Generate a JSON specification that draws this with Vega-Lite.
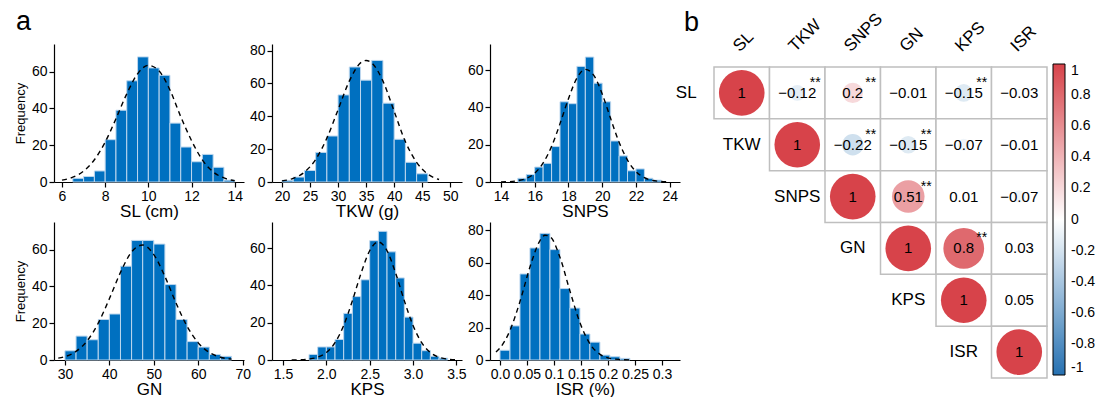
{
  "$schema": "https://vega.github.io/schema/vega-lite/v6.json",
  "padding": {"left": 14, "top": 8, "right": 0, "bottom": 0},
  "background": "white",
  "config": {
    "view": {"stroke": null},
    "font": "Liberation Sans",
    "axis": {"grid": false, "domainColor": "#000", "domainWidth": 1.2, "tickColor": "#000", "tickWidth": 1.2, "tickSize": 5, "labelColor": "#000", "labelFont": "Liberation Sans", "labelFontSize": 14, "titleFont": "Liberation Sans", "titleFontSize": 17, "titleFontWeight": "normal", "titleColor": "#000", "labelOverlap": false, "labelFlush": false, "labelPadding": 2},
    "axisX": {"titlePadding": 0},
    "axisY": {"titleFontSize": 13, "titlePadding": 4},
    "title": {"font": "Liberation Sans", "fontSize": 27, "fontWeight": "normal", "color": "#000", "anchor": "start", "frame": "group", "baseline": "alphabetic"},
    "text": {"font": "Liberation Sans"}
  },
  "datasets": {
    "bars_SL": [
      {"x0": 6.5, "x1": 7, "n": 2}, {"x0": 7, "x1": 7.5, "n": 3}, {"x0": 7.5, "x1": 8, "n": 6}, {"x0": 8, "x1": 8.5, "n": 23},
      {"x0": 8.5, "x1": 9, "n": 39}, {"x0": 9, "x1": 9.5, "n": 55}, {"x0": 9.5, "x1": 10, "n": 68}, {"x0": 10, "x1": 10.5, "n": 62},
      {"x0": 10.5, "x1": 11, "n": 58}, {"x0": 11, "x1": 11.5, "n": 32}, {"x0": 11.5, "x1": 12, "n": 19}, {"x0": 12, "x1": 12.5, "n": 11},
      {"x0": 12.5, "x1": 13, "n": 15}, {"x0": 13, "x1": 13.5, "n": 8}, {"x0": 13.5, "x1": 14, "n": 1}
    ],
    "curve_SL": [
      {"x": 6.0, "y": 1.0}, {"x": 6.5, "y": 2.6}, {"x": 7.0, "y": 5.9}, {"x": 7.5, "y": 12.1}, {"x": 8.0, "y": 21.7},
      {"x": 8.5, "y": 34.4}, {"x": 9.0, "y": 47.9}, {"x": 9.5, "y": 58.8}, {"x": 10.0, "y": 63.4}, {"x": 10.5, "y": 60.3},
      {"x": 11.0, "y": 50.0}, {"x": 11.5, "y": 35.5}, {"x": 12.0, "y": 22.5}, {"x": 12.5, "y": 12.0}, {"x": 13.0, "y": 5.5},
      {"x": 13.5, "y": 2.2}, {"x": 14.0, "y": 0.7}
    ],
    "bars_TKW": [
      {"x0": 20, "x1": 22, "n": 1}, {"x0": 22, "x1": 24, "n": 3}, {"x0": 24, "x1": 26, "n": 7}, {"x0": 26, "x1": 28, "n": 18},
      {"x0": 28, "x1": 30, "n": 28}, {"x0": 30, "x1": 32, "n": 53}, {"x0": 32, "x1": 34, "n": 70}, {"x0": 34, "x1": 36, "n": 62},
      {"x0": 36, "x1": 38, "n": 74}, {"x0": 38, "x1": 40, "n": 48}, {"x0": 40, "x1": 42, "n": 26}, {"x0": 42, "x1": 44, "n": 12},
      {"x0": 44, "x1": 46, "n": 5}
    ],
    "curve_TKW": [
      {"x": 20, "y": 0.7}, {"x": 22, "y": 2.2}, {"x": 24, "y": 6.0}, {"x": 26, "y": 13.7}, {"x": 28, "y": 26.7},
      {"x": 30, "y": 44.0}, {"x": 32, "y": 61.4}, {"x": 34, "y": 72.5}, {"x": 35, "y": 74.0}, {"x": 36, "y": 72.5},
      {"x": 38, "y": 61.4}, {"x": 40, "y": 43.0}, {"x": 42, "y": 24.5}, {"x": 44, "y": 12.0}, {"x": 46, "y": 4.8},
      {"x": 48, "y": 1.5}
    ],
    "bars_SNPS": [
      {"x0": 15, "x1": 15.5, "n": 2}, {"x0": 15.5, "x1": 16, "n": 4}, {"x0": 16, "x1": 16.5, "n": 8}, {"x0": 16.5, "x1": 17, "n": 10},
      {"x0": 17, "x1": 17.5, "n": 19}, {"x0": 17.5, "x1": 18, "n": 43}, {"x0": 18, "x1": 18.5, "n": 42}, {"x0": 18.5, "x1": 19, "n": 62},
      {"x0": 19, "x1": 19.5, "n": 67}, {"x0": 19.5, "x1": 20, "n": 53}, {"x0": 20, "x1": 20.5, "n": 43}, {"x0": 20.5, "x1": 21, "n": 22},
      {"x0": 21, "x1": 21.5, "n": 14}, {"x0": 21.5, "x1": 22, "n": 6}, {"x0": 22, "x1": 22.5, "n": 7}, {"x0": 22.5, "x1": 23, "n": 2},
      {"x0": 23, "x1": 23.5, "n": 1}
    ],
    "curve_SNPS": [
      {"x": 14.0, "y": 0.05}, {"x": 14.5, "y": 0.2}, {"x": 15.0, "y": 0.7}, {"x": 15.5, "y": 1.9}, {"x": 16.0, "y": 4.7},
      {"x": 16.5, "y": 10.2}, {"x": 17.0, "y": 19.1}, {"x": 17.5, "y": 31.3}, {"x": 18.0, "y": 44.7}, {"x": 18.5, "y": 55.7},
      {"x": 19.0, "y": 60.4}, {"x": 19.5, "y": 57.2}, {"x": 20.0, "y": 47.2}, {"x": 20.5, "y": 34.0}, {"x": 21.0, "y": 21.3},
      {"x": 21.5, "y": 11.7}, {"x": 22.0, "y": 5.6}, {"x": 22.5, "y": 2.3}, {"x": 23.0, "y": 0.8}, {"x": 23.5, "y": 0.3},
      {"x": 24.0, "y": 0.1}
    ],
    "bars_GN": [
      {"x0": 30, "x1": 32.5, "n": 5}, {"x0": 32.5, "x1": 35, "n": 13}, {"x0": 35, "x1": 37.5, "n": 11}, {"x0": 37.5, "x1": 40, "n": 22},
      {"x0": 40, "x1": 42.5, "n": 25}, {"x0": 42.5, "x1": 45, "n": 51}, {"x0": 45, "x1": 47.5, "n": 65}, {"x0": 47.5, "x1": 50, "n": 65},
      {"x0": 50, "x1": 52.5, "n": 63}, {"x0": 52.5, "x1": 55, "n": 41}, {"x0": 55, "x1": 57.5, "n": 22}, {"x0": 57.5, "x1": 60, "n": 10},
      {"x0": 60, "x1": 62.5, "n": 7}, {"x0": 62.5, "x1": 65, "n": 3}, {"x0": 65, "x1": 67.5, "n": 2}
    ],
    "curve_GN": [
      {"x": 28.5, "y": 1.0}, {"x": 30, "y": 1.8}, {"x": 32.5, "y": 4.7}, {"x": 35, "y": 10.4}, {"x": 37.5, "y": 20.0},
      {"x": 40, "y": 33.3}, {"x": 42.5, "y": 47.6}, {"x": 45, "y": 58.7}, {"x": 47.5, "y": 62.5}, {"x": 50, "y": 57.3},
      {"x": 52.5, "y": 45.4}, {"x": 55, "y": 31.0}, {"x": 57.5, "y": 18.3}, {"x": 60, "y": 9.3}, {"x": 62.5, "y": 4.1},
      {"x": 65, "y": 1.5}, {"x": 67.5, "y": 0.5}
    ],
    "bars_KPS": [
      {"x0": 1.8, "x1": 1.9, "n": 3}, {"x0": 1.9, "x1": 2.0, "n": 7}, {"x0": 2.0, "x1": 2.1, "n": 7}, {"x0": 2.1, "x1": 2.2, "n": 11},
      {"x0": 2.2, "x1": 2.3, "n": 25}, {"x0": 2.3, "x1": 2.4, "n": 34}, {"x0": 2.4, "x1": 2.5, "n": 43}, {"x0": 2.5, "x1": 2.6, "n": 64},
      {"x0": 2.6, "x1": 2.7, "n": 69}, {"x0": 2.7, "x1": 2.8, "n": 58}, {"x0": 2.8, "x1": 2.9, "n": 44}, {"x0": 2.9, "x1": 3.0, "n": 23},
      {"x0": 3.0, "x1": 3.1, "n": 9}, {"x0": 3.1, "x1": 3.2, "n": 5}, {"x0": 3.2, "x1": 3.3, "n": 2}, {"x0": 3.3, "x1": 3.4, "n": 1}
    ],
    "curve_KPS": [
      {"x": 1.6, "y": 0.0}, {"x": 1.7, "y": 0.1}, {"x": 1.8, "y": 0.5}, {"x": 1.9, "y": 1.5}, {"x": 2.0, "y": 4.0},
      {"x": 2.1, "y": 9.3}, {"x": 2.2, "y": 18.5}, {"x": 2.3, "y": 31.7}, {"x": 2.4, "y": 46.5}, {"x": 2.5, "y": 58.6},
      {"x": 2.6, "y": 63.3}, {"x": 2.7, "y": 58.6}, {"x": 2.8, "y": 46.5}, {"x": 2.9, "y": 31.7}, {"x": 3.0, "y": 18.5},
      {"x": 3.1, "y": 9.3}, {"x": 3.2, "y": 4.0}, {"x": 3.3, "y": 1.5}, {"x": 3.4, "y": 0.5}, {"x": 3.5, "y": 0.1}
    ],
    "bars_ISR": [
      {"x0": 0, "x1": 0.0185, "n": 6}, {"x0": 0.0185, "x1": 0.037, "n": 21}, {"x0": 0.037, "x1": 0.0555, "n": 53},
      {"x0": 0.0555, "x1": 0.074, "n": 69}, {"x0": 0.074, "x1": 0.0925, "n": 78}, {"x0": 0.0925, "x1": 0.111, "n": 68},
      {"x0": 0.111, "x1": 0.1295, "n": 44}, {"x0": 0.1295, "x1": 0.148, "n": 32}, {"x0": 0.148, "x1": 0.1665, "n": 16},
      {"x0": 0.1665, "x1": 0.185, "n": 11}, {"x0": 0.185, "x1": 0.2035, "n": 3}, {"x0": 0.2035, "x1": 0.222, "n": 2},
      {"x0": 0.222, "x1": 0.2405, "n": 1}
    ],
    "curve_ISR": [
      {"x": -0.0074, "y": 4.9}, {"x": 0, "y": 7.4}, {"x": 0.0185, "y": 18.2}, {"x": 0.037, "y": 36.0}, {"x": 0.0556, "y": 57.4},
      {"x": 0.0741, "y": 73.6}, {"x": 0.0833, "y": 76.8}, {"x": 0.0926, "y": 76.0}, {"x": 0.1111, "y": 63.2}, {"x": 0.1296, "y": 42.4},
      {"x": 0.1481, "y": 22.9}, {"x": 0.1667, "y": 9.9}, {"x": 0.1852, "y": 3.5}, {"x": 0.2037, "y": 1.0}, {"x": 0.2222, "y": 0.3},
      {"x": 0.2407, "y": 0.05}
    ],
    "corr": [
      {"row": "SL", "col": "SL", "r": 1, "mag": 1, "sig": ""},
      {"row": "SL", "col": "TKW", "r": -0.12, "mag": 0.12, "sig": "**"},
      {"row": "SL", "col": "SNPS", "r": 0.2, "mag": 0.2, "sig": "**"},
      {"row": "SL", "col": "GN", "r": -0.01, "mag": 0.01, "sig": ""},
      {"row": "SL", "col": "KPS", "r": -0.15, "mag": 0.15, "sig": "**"},
      {"row": "SL", "col": "ISR", "r": -0.03, "mag": 0.03, "sig": ""},
      {"row": "TKW", "col": "TKW", "r": 1, "mag": 1, "sig": ""},
      {"row": "TKW", "col": "SNPS", "r": -0.22, "mag": 0.22, "sig": "**"},
      {"row": "TKW", "col": "GN", "r": -0.15, "mag": 0.15, "sig": "**"},
      {"row": "TKW", "col": "KPS", "r": -0.07, "mag": 0.07, "sig": ""},
      {"row": "TKW", "col": "ISR", "r": -0.01, "mag": 0.01, "sig": ""},
      {"row": "SNPS", "col": "SNPS", "r": 1, "mag": 1, "sig": ""},
      {"row": "SNPS", "col": "GN", "r": 0.51, "mag": 0.51, "sig": "**"},
      {"row": "SNPS", "col": "KPS", "r": 0.01, "mag": 0.01, "sig": ""},
      {"row": "SNPS", "col": "ISR", "r": -0.07, "mag": 0.07, "sig": ""},
      {"row": "GN", "col": "GN", "r": 1, "mag": 1, "sig": ""},
      {"row": "GN", "col": "KPS", "r": 0.8, "mag": 0.8, "sig": "**"},
      {"row": "GN", "col": "ISR", "r": 0.03, "mag": 0.03, "sig": ""},
      {"row": "KPS", "col": "KPS", "r": 1, "mag": 1, "sig": ""},
      {"row": "KPS", "col": "ISR", "r": 0.05, "mag": 0.05, "sig": ""},
      {"row": "ISR", "col": "ISR", "r": 1, "mag": 1, "sig": ""}
    ],
    "vars": [{"var": "SL"}, {"var": "TKW"}, {"var": "SNPS"}, {"var": "GN"}, {"var": "KPS"}, {"var": "ISR"}]
  },
  "spacing": -5,
  "hconcat": [
    {
      "spacing": 3,
      "vconcat": [
        {
          "spacing": 28,
          "bounds": "flush",
          "hconcat": [
            {
              "width": 190, "height": 138,
              "title": {"text": "a", "dx": -38, "offset": 8},
              "layer": [
                {"data": {"name": "bars_SL"}, "mark": {"type": "rect", "fill": "#0070C0", "stroke": "#BDD7EE", "strokeWidth": 1},
                 "encoding": {
                   "x": {"field": "x0", "type": "quantitative", "title": "SL (cm)", "scale": {"domain": [5.63, 14.43], "nice": false, "zero": false}, "axis": {"values": [6, 8, 10, 12, 14]}},
                   "x2": {"field": "x1"},
                   "y": {"field": "n", "type": "quantitative", "title": "Frequency", "scale": {"domain": [0, 75], "nice": false}, "axis": {"values": [0, 20, 40, 60]}},
                   "y2": {"datum": 0}}},
                {"data": {"name": "curve_SL"}, "mark": {"type": "line", "color": "#000", "strokeDash": [5, 4], "strokeWidth": 1.4, "interpolate": "monotone"},
                 "encoding": {
                   "x": {"field": "x", "type": "quantitative", "title": "SL (cm)", "scale": {"domain": [5.63, 14.43], "nice": false, "zero": false}, "axis": {"values": [6, 8, 10, 12, 14]}},
                   "y": {"field": "y", "type": "quantitative", "title": "Frequency", "scale": {"domain": [0, 75], "nice": false}, "axis": {"values": [0, 20, 40, 60]}}}}
              ]
            },
            {
              "width": 190, "height": 138,
              "layer": [
                {"data": {"name": "bars_TKW"}, "mark": {"type": "rect", "fill": "#0070C0", "stroke": "#BDD7EE", "strokeWidth": 1},
                 "encoding": {
                   "x": {"field": "x0", "type": "quantitative", "title": "TKW (g)", "scale": {"domain": [18.22, 52.09], "nice": false, "zero": false}, "axis": {"values": [20, 25, 30, 35, 40, 45, 50]}},
                   "x2": {"field": "x1"},
                   "y": {"field": "n", "type": "quantitative", "title": null, "scale": {"domain": [0, 84], "nice": false}, "axis": {"values": [0, 20, 40, 60, 80]}},
                   "y2": {"datum": 0}}},
                {"data": {"name": "curve_TKW"}, "mark": {"type": "line", "color": "#000", "strokeDash": [5, 4], "strokeWidth": 1.4, "interpolate": "monotone"},
                 "encoding": {
                   "x": {"field": "x", "type": "quantitative", "title": "TKW (g)", "scale": {"domain": [18.22, 52.09], "nice": false, "zero": false}, "axis": {"values": [20, 25, 30, 35, 40, 45, 50]}},
                   "y": {"field": "y", "type": "quantitative", "title": null, "scale": {"domain": [0, 84], "nice": false}, "axis": {"values": [0, 20, 40, 60, 80]}}}}
              ]
            },
            {
              "width": 190, "height": 138,
              "layer": [
                {"data": {"name": "bars_SNPS"}, "mark": {"type": "rect", "fill": "#0070C0", "stroke": "#BDD7EE", "strokeWidth": 1},
                 "encoding": {
                   "x": {"field": "x0", "type": "quantitative", "title": "SNPS", "scale": {"domain": [13.35, 24.61], "nice": false, "zero": false}, "axis": {"values": [14, 16, 18, 20, 22, 24]}},
                   "x2": {"field": "x1"},
                   "y": {"field": "n", "type": "quantitative", "title": null, "scale": {"domain": [0, 74], "nice": false}, "axis": {"values": [0, 20, 40, 60]}},
                   "y2": {"datum": 0}}},
                {"data": {"name": "curve_SNPS"}, "mark": {"type": "line", "color": "#000", "strokeDash": [5, 4], "strokeWidth": 1.4, "interpolate": "monotone"},
                 "encoding": {
                   "x": {"field": "x", "type": "quantitative", "title": "SNPS", "scale": {"domain": [13.35, 24.61], "nice": false, "zero": false}, "axis": {"values": [14, 16, 18, 20, 22, 24]}},
                   "y": {"field": "y", "type": "quantitative", "title": null, "scale": {"domain": [0, 74], "nice": false}, "axis": {"values": [0, 20, 40, 60]}}}}
              ]
            }
          ]
        },
        {
          "spacing": 28,
          "bounds": "flush",
          "hconcat": [
            {
              "width": 190, "height": 138,
              "layer": [
                {"data": {"name": "bars_GN"}, "mark": {"type": "rect", "fill": "#0070C0", "stroke": "#BDD7EE", "strokeWidth": 1},
                 "encoding": {
                   "x": {"field": "x0", "type": "quantitative", "title": "GN", "scale": {"domain": [27.54, 70.3], "nice": false, "zero": false}, "axis": {"values": [30, 40, 50, 60, 70]}},
                   "x2": {"field": "x1"},
                   "y": {"field": "n", "type": "quantitative", "title": "Frequency", "scale": {"domain": [0, 75], "nice": false}, "axis": {"values": [0, 20, 40, 60]}},
                   "y2": {"datum": 0}}},
                {"data": {"name": "curve_GN"}, "mark": {"type": "line", "color": "#000", "strokeDash": [5, 4], "strokeWidth": 1.4, "interpolate": "monotone"},
                 "encoding": {
                   "x": {"field": "x", "type": "quantitative", "title": "GN", "scale": {"domain": [27.54, 70.3], "nice": false, "zero": false}, "axis": {"values": [30, 40, 50, 60, 70]}},
                   "y": {"field": "y", "type": "quantitative", "title": "Frequency", "scale": {"domain": [0, 75], "nice": false}, "axis": {"values": [0, 20, 40, 60]}}}}
              ]
            },
            {
              "width": 190, "height": 138,
              "layer": [
                {"data": {"name": "bars_KPS"}, "mark": {"type": "rect", "fill": "#0070C0", "stroke": "#BDD7EE", "strokeWidth": 1},
                 "encoding": {
                   "x": {"field": "x0", "type": "quantitative", "title": "KPS", "scale": {"domain": [1.373, 3.565], "nice": false, "zero": false}, "axis": {"values": [1.5, 2, 2.5, 3, 3.5], "format": ".1f"}},
                   "x2": {"field": "x1"},
                   "y": {"field": "n", "type": "quantitative", "title": null, "scale": {"domain": [0, 74], "nice": false}, "axis": {"values": [0, 20, 40, 60]}},
                   "y2": {"datum": 0}}},
                {"data": {"name": "curve_KPS"}, "mark": {"type": "line", "color": "#000", "strokeDash": [5, 4], "strokeWidth": 1.4, "interpolate": "monotone"},
                 "encoding": {
                   "x": {"field": "x", "type": "quantitative", "title": "KPS", "scale": {"domain": [1.373, 3.565], "nice": false, "zero": false}, "axis": {"values": [1.5, 2, 2.5, 3, 3.5], "format": ".1f"}},
                   "y": {"field": "y", "type": "quantitative", "title": null, "scale": {"domain": [0, 74], "nice": false}, "axis": {"values": [0, 20, 40, 60]}}}}
              ]
            },
            {
              "width": 190, "height": 138,
              "layer": [
                {"data": {"name": "bars_ISR"}, "mark": {"type": "rect", "fill": "#0070C0", "stroke": "#BDD7EE", "strokeWidth": 1},
                 "encoding": {
                   "x": {"field": "x0", "type": "quantitative", "title": "ISR (%)", "scale": {"domain": [-0.0185, 0.3333], "nice": false, "zero": false}, "axis": {"values": [0, 0.05, 0.1, 0.15, 0.2, 0.25, 0.3], "labelExpr": "datum.value == 0 ? '0.0' : format(datum.value, '~g')"}},
                   "x2": {"field": "x1"},
                   "y": {"field": "n", "type": "quantitative", "title": null, "scale": {"domain": [0, 85], "nice": false}, "axis": {"values": [0, 20, 40, 60, 80]}},
                   "y2": {"datum": 0}}},
                {"data": {"name": "curve_ISR"}, "mark": {"type": "line", "color": "#000", "strokeDash": [5, 4], "strokeWidth": 1.4, "interpolate": "monotone"},
                 "encoding": {
                   "x": {"field": "x", "type": "quantitative", "title": "ISR (%)", "scale": {"domain": [-0.0185, 0.3333], "nice": false, "zero": false}, "axis": {"values": [0, 0.05, 0.1, 0.15, 0.2, 0.25, 0.3], "labelExpr": "datum.value == 0 ? '0.0' : format(datum.value, '~g')"}},
                   "y": {"field": "y", "type": "quantitative", "title": null, "scale": {"domain": [0, 85], "nice": false}, "axis": {"values": [0, 20, 40, 60, 80]}}}}
              ]
            }
          ]
        }
      ]
    },
    {
      "width": 333, "height": 334,
      "title": {"text": "b", "dx": -30, "offset": -27},
      "layer": [
        {"data": {"name": "corr"}, "mark": {"type": "rect", "fill": "white", "stroke": "#BFBFBF", "strokeWidth": 1.5},
         "encoding": {
           "x": {"field": "col", "type": "nominal", "scale": {"domain": ["SL", "TKW", "SNPS", "GN", "KPS", "ISR"], "paddingInner": 0, "paddingOuter": 0}, "axis": null},
           "y": {"field": "row", "type": "nominal", "scale": {"domain": ["SL", "TKW", "SNPS", "GN", "KPS", "ISR"], "range": [23, 334], "paddingInner": 0, "paddingOuter": 0}, "axis": null}}},
        {"data": {"name": "corr"}, "mark": {"type": "point", "shape": "circle", "filled": true, "opacity": 1, "strokeWidth": 0},
         "encoding": {
           "x": {"field": "col", "type": "nominal", "axis": null},
           "y": {"field": "row", "type": "nominal", "axis": null},
           "size": {"field": "mag", "type": "quantitative", "scale": {"domain": [0, 1], "range": [0, 2080]}, "legend": null},
           "color": {"field": "r", "type": "quantitative", "scale": {"domain": [-1, 0, 1], "range": ["#2671B1", "#FFFFFF", "#D7434A"], "interpolate": "rgb"},
             "legend": {"orient": "none", "legendX": 999, "legendY": 20, "direction": "vertical", "title": null, "gradientLength": 311, "gradientThickness": 12, "gradientStrokeColor": "#000", "gradientStrokeWidth": 1, "values": [1, 0.8, 0.6, 0.4, 0.2, 0, -0.2, -0.4, -0.6, -0.8, -1], "labelExpr": "replace(format(datum.value, '~g'), '−', '-')", "labelFontSize": 14, "labelOffset": 6, "labelFont": "Liberation Sans", "labelColor": "#000", "padding": 0}}}},
        {"data": {"name": "corr"}, "mark": {"type": "text", "fontSize": 15, "color": "#000"},
         "encoding": {
           "x": {"field": "col", "type": "nominal", "axis": null},
           "y": {"field": "row", "type": "nominal", "axis": null},
           "text": {"field": "r", "type": "quantitative", "format": "~g"}}},
        {"data": {"name": "corr"}, "mark": {"type": "text", "fontSize": 14, "color": "#000", "dx": 18, "dy": -10},
         "encoding": {
           "x": {"field": "col", "type": "nominal", "axis": null},
           "y": {"field": "row", "type": "nominal", "axis": null},
           "text": {"field": "sig"}}},
        {"data": {"name": "vars"}, "mark": {"type": "text", "fontSize": 17, "color": "#000", "dx": -55.5},
         "encoding": {
           "x": {"field": "var", "type": "nominal", "axis": null},
           "y": {"field": "var", "type": "nominal", "axis": null},
           "text": {"field": "var"}}},
        {"data": {"name": "vars"}, "mark": {"type": "text", "fontSize": 17, "color": "#000", "angle": 315, "align": "left", "baseline": "middle", "dx": 27, "dy": -35},
         "encoding": {
           "x": {"field": "var", "type": "nominal", "axis": null},
           "y": {"datum": "SL", "type": "nominal", "axis": null},
           "text": {"field": "var"}}}
      ]
    }
  ]
}
